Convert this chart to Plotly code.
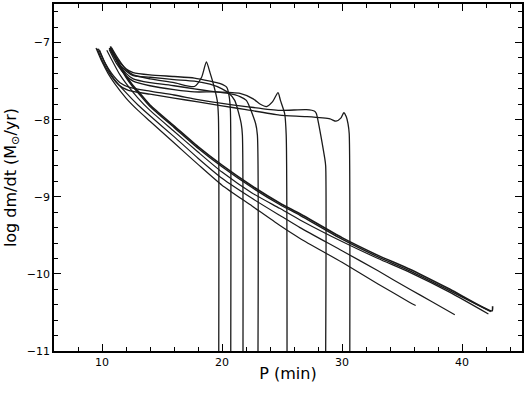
"""Mass-transfer rate versus orbital period for a set of evolutionary tracks."""

import plotly.graph_objects as go

# Tracks that keep transferring mass (P in min, log dm/dt in Msun/yr)
p_a1 = [10.7, 11.0, 11.5, 12.0, 12.5, 13.0, 14.0, 16.0, 18.0, 20.0, 22.5, 24.8, 26.5, 30.0, 33.0, 35.65, 39.0, 42.5, 42.55]
m_a1 = [-7.05, -7.15, -7.30, -7.43, -7.54, -7.63, -7.81, -8.08, -8.35, -8.59, -8.86, -9.08, -9.22, -9.53, -9.76, -9.94, -10.20, -10.48, -10.42]
p_a2 = [10.65, 11.0, 11.5, 12.0, 12.5, 13.0, 14.0, 16.0, 18.0, 20.0, 22.5, 24.8, 26.5, 30.0, 33.0, 35.65, 39.0, 42.4]
m_a2 = [-7.07, -7.17, -7.32, -7.45, -7.56, -7.65, -7.83, -8.10, -8.37, -8.61, -8.88, -9.10, -9.24, -9.55, -9.78, -9.96, -10.22, -10.49]
p_b = [10.4, 10.8, 11.5, 12.0, 13.0, 14.0, 16.0, 18.0, 20.0, 22.5, 24.8, 26.5, 30.0, 33.0, 35.65, 39.0, 42.2]
m_b = [-7.10, -7.22, -7.42, -7.53, -7.72, -7.88, -8.15, -8.42, -8.68, -8.95, -9.15, -9.30, -9.58, -9.80, -9.98, -10.24, -10.52]
p_c = [9.8, 10.3, 11.0, 12.0, 13.0, 14.0, 16.0, 18.0, 20.0, 22.5, 24.8, 26.5, 30.0, 33.0, 35.65, 37.5, 39.4]
m_c = [-7.10, -7.28, -7.47, -7.65, -7.81, -7.95, -8.22, -8.50, -8.76, -9.02, -9.24, -9.40, -9.70, -9.96, -10.20, -10.36, -10.53]
p_d = [9.5, 10.0, 10.5, 11.0, 12.0, 13.0, 14.0, 16.0, 18.0, 20.0, 22.5, 24.8, 26.5, 30.0, 33.0, 35.65, 36.14]
m_d = [-7.07, -7.25, -7.40, -7.52, -7.72, -7.88, -8.02, -8.30, -8.58, -8.85, -9.12, -9.37, -9.54, -9.85, -10.13, -10.37, -10.41]

# Tracks that detach (plateau, then the rate drops off)
p_t1 = [10.8, 11.3, 12.0, 12.6, 14.0, 16.0, 17.7, 18.3, 18.7, 19.0, 19.25, 19.6, 19.7, 19.73]
m_t1 = [-7.07, -7.20, -7.35, -7.42, -7.47, -7.52, -7.57, -7.45, -7.25, -7.39, -7.52, -7.75, -7.95, -11.0]
p_t2 = [10.7, 11.2, 12.0, 12.6, 14.0, 16.0, 17.7, 19.0, 19.8, 20.4, 20.6, 20.7, 20.73]
m_t2 = [-7.06, -7.20, -7.34, -7.39, -7.42, -7.44, -7.46, -7.50, -7.53, -7.58, -7.70, -7.88, -11.0]
p_t3 = [10.6, 11.2, 12.0, 12.6, 14.0, 16.0, 17.7, 19.0, 20.0, 20.6, 21.06, 21.6, 21.7, 21.75]
m_t3 = [-7.07, -7.23, -7.37, -7.43, -7.45, -7.48, -7.50, -7.54, -7.60, -7.66, -7.75, -8.05, -8.20, -11.0]
p_t4 = [10.7, 11.3, 12.0, 12.6, 14.0, 16.0, 17.7, 19.0, 20.5, 21.5, 22.03, 22.8, 22.95, 23.0]
m_t4 = [-7.08, -7.25, -7.40, -7.47, -7.52, -7.56, -7.60, -7.63, -7.66, -7.70, -7.75, -8.05, -8.20, -11.0]
p_t5 = [10.6, 11.2, 12.0, 12.6, 14.0, 16.0, 17.7, 19.5, 21.5, 22.6, 23.2, 23.7, 24.2, 24.67, 24.87, 25.22, 25.35, 25.42]
m_t5 = [-7.09, -7.27, -7.43, -7.50, -7.56, -7.61, -7.64, -7.64, -7.66, -7.73, -7.80, -7.83, -7.77, -7.65, -7.75, -7.92, -8.20, -11.0]
p_t6 = [9.7, 10.2, 10.8, 11.5, 12.3, 14.0, 16.0, 18.0, 20.0, 22.0, 24.8, 27.03, 27.72, 27.86, 28.56, 28.64, 28.64]
m_t6 = [-7.08, -7.25, -7.40, -7.52, -7.58, -7.63, -7.68, -7.74, -7.79, -7.83, -7.88, -7.87, -7.89, -7.92, -8.50, -8.60, -11.0]
p_t7 = [9.6, 10.1, 10.7, 11.4, 12.2, 14.0, 16.0, 18.0, 20.0, 22.0, 24.8, 27.0, 29.0, 29.5, 29.9, 30.15, 30.35, 30.5, 30.6, 30.65]
m_t7 = [-7.08, -7.26, -7.42, -7.55, -7.62, -7.67, -7.72, -7.77, -7.82, -7.87, -7.94, -7.96, -7.99, -8.02, -7.98, -7.91, -7.96, -8.05, -8.18, -11.0]

tracks = [
    (p_a1, m_a1, 1.6), (p_a2, m_a2, 1.4), (p_b, m_b, 1.2), (p_c, m_c, 1.2), (p_d, m_d, 1.2),
    (p_t1, m_t1, 1.3), (p_t2, m_t2, 1.3), (p_t3, m_t3, 1.3), (p_t4, m_t4, 1.3),
    (p_t5, m_t5, 1.3), (p_t6, m_t6, 1.3), (p_t7, m_t7, 1.3),
]

fig = go.Figure()
for p, m, w in tracks:
    fig.add_trace(go.Scatter(
        x=p, y=m, mode="lines",
        line=dict(color="#1a1a1a", width=w, shape="spline", smoothing=0.6),
        showlegend=False, hoverinfo="skip",
    ))

axis_common = dict(
    showline=True, linecolor="black", linewidth=1.8, mirror="allticks",
    ticks="inside", ticklen=7, tickwidth=1.2, tickcolor="black",
    showgrid=False, zeroline=False, automargin=False,
    tickfont=dict(size=11, color="black"),
)

fig.update_xaxes(
    range=[6, 45], tickvals=[10, 20, 30, 40],
    minor=dict(dtick=2, tick0=0, ticks="inside", ticklen=4, tickcolor="black"),
    title=dict(text="P (min)", font=dict(size=16, color="black"), standoff=0),
    **axis_common,
)
fig.update_yaxes(
    range=[-11, -6.5], tickvals=[-11, -10, -9, -8, -7],
    minor=dict(dtick=0.2, tick0=0, ticks="inside", ticklen=4, tickcolor="black"),
    title=dict(text="log dm/dt (M<sub>⊙</sub>/yr)", font=dict(size=16, color="black"), standoff=6),
    **axis_common,
)

fig.update_layout(
    width=525, height=393,
    margin=dict(l=54, r=3, t=4, b=42),
    plot_bgcolor="white", paper_bgcolor="white",
    font=dict(family="DejaVu Sans", color="black"),
)

# the page body has a default 8px margin; drop it so the figure sits at the corner
fig.write_html(
    "out.html",
    config={"displayModeBar": False},
    post_script="document.body.style.margin='0px';",
)
